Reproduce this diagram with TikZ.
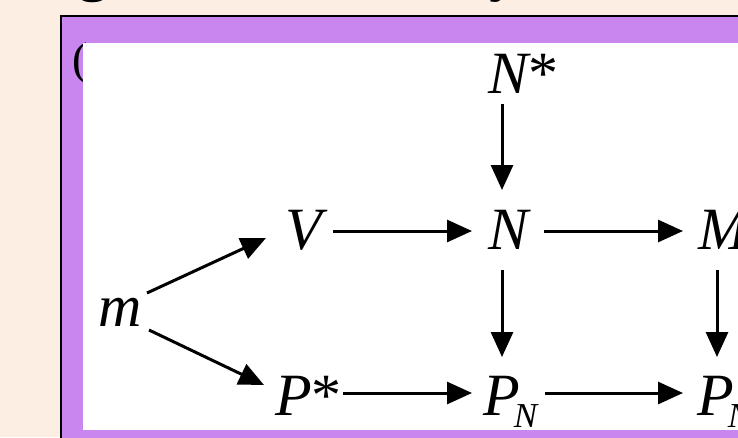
\documentclass[tikz,border=0pt]{standalone}
\usepackage{fontspec}
\setmainfont{Liberation Serif}
\usetikzlibrary{arrows.meta,calc}
\definecolor{peach}{RGB}{253,238,228}
\definecolor{lilac}{RGB}{200,134,238}
\newcommand{\subN}{\kern-6pt\raisebox{-12pt}{\fontsize{35}{35}\selectfont N}}
\begin{document}
\begin{tikzpicture}[x=1pt,y=-1pt,
  lbl/.style={inner sep=0pt, anchor=base west, font=\fontsize{60}{62}\selectfont\itshape},
  top/.style={inner sep=0pt, anchor=base west, font=\fontsize{60}{62}\selectfont\bfseries},
  arr/.style={line width=3pt, -{Triangle[length=25pt,width=22pt]}}]
\useasboundingbox (0,0) rectangle (738,437);
\fill[peach] (0,0) rectangle (738,437);
\node[top] (tg) at (78,-11) {g};
\node[top] (ty) at (489,-11) {y};
\filldraw[fill=lilac, draw=black, line width=2pt] (61,16) rectangle (760,460);
\node[inner sep=0pt, font=\fontsize{46}{48}\selectfont] (par) at (80,63) {(};
\fill[white] (83,43) rectangle (760,430);
% nodes
\node[lbl] (Nstar) at (488,93) {N{\upshape *}};
\node[lbl] (V) at (285,249) {V};
\node[lbl] (N) at (488,249) {N};
\node[lbl] (M) at (698,249) {M};
\node[lbl] (m) at (98,326) {m};
\node[lbl] (Pstar) at (275,415) {P{\upshape *}};
\node[lbl] (PN) at (483,415) {P\subN};
\node[lbl] (PM) at (697,415) {P\subN};
% arrows
\draw[arr] ($(Nstar.base west)+(14,11)$) -- ($(N.base west)+(14,-59)$);
\draw[arr] ($(m.base west)+(49,-33)$) -- ($(V.base west)+(-19,-11)$);
\draw[arr] ($(m.base west)+(51,4)$) -- ($(Pstar.base west)+(-11,-30)$);
\draw[arr] ($(V.base west)+(48,-18)$) -- ($(N.base west)+(-16,-18)$);
\draw[arr] ($(N.base west)+(56,-18)$) -- ($(M.base west)+(-15,-18)$);
\draw[arr] ($(N.base west)+(14,21)$) -- ($(PN.base west)+(19,-58)$);
\draw[arr] ($(M.base west)+(19,21)$) -- ($(PM.base west)+(20,-58)$);
\draw[arr] ($(Pstar.base west)+(68,-22)$) -- ($(PN.base west)+(-11,-22)$);
\draw[arr] ($(PN.base west)+(62,-22)$) -- ($(PM.base west)+(-14,-22)$);
\end{tikzpicture}
\end{document}
